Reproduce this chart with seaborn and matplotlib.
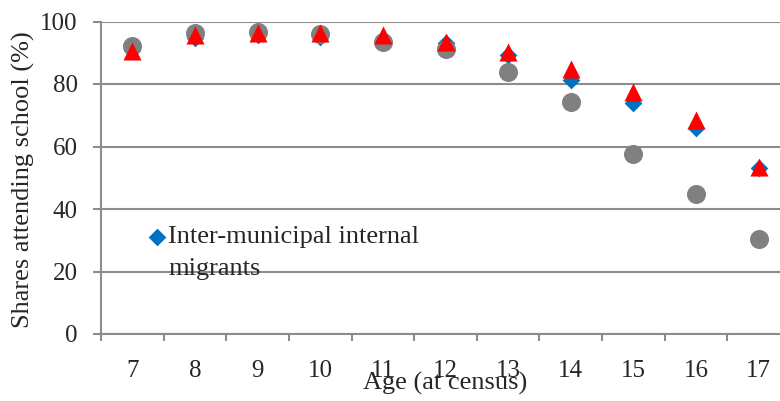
import pandas as pd
import numpy as np
import matplotlib
matplotlib.use('Agg')
import matplotlib.pyplot as plt
import seaborn as sns

ages = ['7', '8', '9', '10', '11', '12', '13', '14', '15', '16', '17']
inter_municipal = [90.9, 94.8, 95.7, 95.0, 93.5, 93.0, 89.3, 81.3, 73.9, 66.0, 53.0]
grey_series = [92.2, 96.2, 96.5, 95.9, 93.5, 91.1, 83.9, 74.3, 57.6, 44.9, 30.5]
red_series = [90.7, 95.7, 96.4, 96.3, 95.8, 93.5, 90.3, 84.8, 77.5, 68.5, 53.5]

sns.set_theme(style='white')
plt.rcParams['font.family'] = ['Liberation Serif', 'DejaVu Serif']

df = pd.DataFrame({'age': ages, 'blue': inter_municipal, 'grey': grey_series, 'red': red_series})

fig = plt.figure(figsize=(7.8, 4.01), dpi=100)
# axes run a bit past the right edge, like the cropped original
ax = fig.add_axes([101 / 780, 67 / 401, 689 / 780, 312.5 / 401])

sns.stripplot(data=df, x='age', y='blue', jitter=False, marker='D', size=9, color='#0070C0',
              linewidth=0, ax=ax, label='Inter-municipal internal', zorder=3)
sns.stripplot(data=df, x='age', y='grey', jitter=False, marker='o', size=13.7, color='#808080',
              linewidth=0, ax=ax, zorder=4)
sns.stripplot(data=df, x='age', y='red', jitter=False, marker='^', size=13, color='#FF0000',
              linewidth=0, ax=ax, zorder=5)

ax.set_ylim(0, 100)
ax.set_xlim(-0.5, 10.5)
ax.set_yticks(np.arange(0, 101, 20))
ax.grid(axis='y', color='#8c8c8c', linewidth=1.5)
ax.set_axisbelow(True)

ax.set_xticks(np.arange(len(ages)))
ax.set_xticklabels(ages)
ax.set_xticks(np.arange(len(ages) + 1) - 0.5, minor=True)
ax.tick_params(axis='x', which='major', length=0, pad=18.5, labelsize=18)
ax.tick_params(axis='x', which='minor', length=5, width=1.5, color='#8c8c8c', direction='out', bottom=True)
ax.tick_params(axis='y', length=5.8, width=1.5, color='#8c8c8c', direction='out', left=True, labelsize=18, pad=11)

for s in ['top', 'right']:
    ax.spines[s].set_visible(False)
for s in ['left', 'bottom']:
    ax.spines[s].set_color('#8c8c8c')
    ax.spines[s].set_linewidth(1.5)

ax.set_xlabel('Age (at census)', fontsize=19)
ax.xaxis.set_label_coords((445 - 101) / 689, -0.12)
ax.set_ylabel('Shares attending school (%)', fontsize=19, va='center')
ax.yaxis.set_label_coords((23 - 101) / 689, 0.493)

handles, labels = ax.get_legend_handles_labels()
leg = ax.legend(handles[:1], labels[:1], loc='upper left', bbox_to_anchor=(152 / 780, 1 - 225 / 401),
                bbox_transform=fig.transFigure, frameon=False, fontsize=19, handletextpad=0.2,
                handlelength=0.4, borderpad=0, borderaxespad=0)
fig.text(168 / 780, 1 - 275 / 401, 'migrants', fontsize=19, va='baseline', ha='left')

fig.savefig('out.png', dpi=100)
